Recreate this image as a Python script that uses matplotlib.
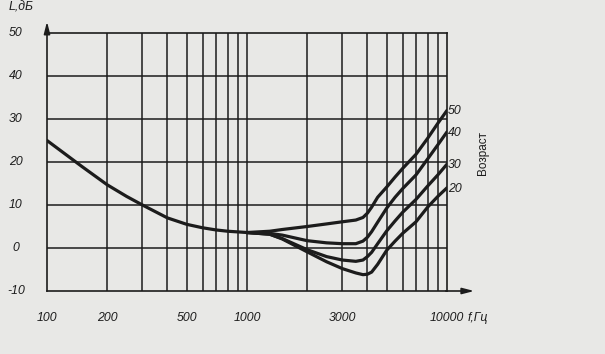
import matplotlib
matplotlib.use("Agg")
import matplotlib.pyplot as plt
from matplotlib import transforms

# ---- data ----
common_f = [100, 150, 200, 250, 300, 400, 500, 600, 700, 800, 1000]
common_L = [25, 18.9, 14.7, 12.0, 10.0, 7.0, 5.5, 4.7, 4.2, 3.9, 3.6]

f50 = [1000, 1300, 1500, 2000, 2500, 3000, 3500, 3800, 4000, 4200, 4500, 5000, 5500, 6000, 7000, 8000, 9000, 10000]
L50 = [3.6, 3.9, 4.3, 5.0, 5.6, 6.1, 6.5, 7.1, 8.1, 9.5, 11.8, 14.2, 16.5, 18.5, 21.8, 25.5, 29.0, 32.0]

f40 = [1000, 1300, 1500, 2000, 2500, 3000, 3500, 3800, 4000, 4200, 4500, 5000, 5500, 6000, 7000, 8000, 9000, 10000]
L40 = [3.6, 3.4, 3.0, 1.7, 1.2, 1.0, 1.0, 1.6, 2.5, 3.8, 6.0, 9.3, 11.8, 13.8, 17.0, 20.7, 24.0, 27.0]

f30 = [1000, 1300, 1500, 2000, 2500, 3000, 3500, 3800, 4000, 4200, 4500, 5000, 5500, 6000, 7000, 8000, 9000, 10000]
L30 = [3.6, 3.2, 2.2, -0.4, -2.0, -2.8, -3.1, -2.8, -2.0, -1.0, 1.0, 4.0, 6.3, 8.3, 11.3, 14.4, 17.0, 19.5]

f20 = [1000, 1300, 1500, 2000, 2500, 3000, 3500, 3800, 4000, 4200, 4500, 5000, 5500, 6000, 7000, 8000, 9000, 10000]
L20 = [3.6, 3.2, 2.1, -0.9, -3.2, -4.8, -5.8, -6.2, -6.1, -5.6, -3.8, -0.5, 1.6, 3.4, 6.1, 9.5, 12.0, 14.0]

ages = ["50", "40", "30", "20"]

y_ticks = [-10, 0, 10, 20, 30, 40, 50]
x_ticks = [100, 200, 500, 1000, 3000, 10000]
x_tick_labels = ["100", "200", "500", "1000", "3000", "10000"]
x_grid = [200, 300, 400, 500, 600, 700, 800, 900, 1000,
          2000, 3000, 4000, 5000, 6000, 7000, 8000, 9000]
y_grid = [0, 10, 20, 30, 40]

bg = "#e8e8e6"
ink = "#1c1c1c"
font = dict(family=["Liberation Sans", "DejaVu Sans"], style="italic", fontsize=8.8, color=ink)

fig = plt.figure(figsize=(6.05, 3.54), dpi=100, facecolor=bg)
ax = fig.add_axes([47 / 605, 63 / 354, 400 / 605, 258 / 354])
ax.set_facecolor(bg)
ax.set_xscale("log")
ax.set_xlim(100, 10000)
ax.set_ylim(-10, 50)

for s in ax.spines.values():
    s.set_color(ink)
    s.set_linewidth(1.2)
ax.tick_params(which="both", length=0, labelbottom=False, labelleft=False)
ax.set_xticks([])
ax.set_xticks([], minor=True)
ax.set_yticks([])

for g in x_grid:
    ax.axvline(g, color=ink, lw=1.1, zorder=1)
for g in y_grid:
    ax.axhline(g, color=ink, lw=1.1, zorder=1)

# axis arrows
arrow = dict(arrowstyle="-|>,head_length=0.7,head_width=0.18", color=ink, lw=1.2)
ax.annotate("", xy=(1.075, 0), xytext=(0.99, 0), xycoords="axes fraction",
            arrowprops=arrow, annotation_clip=False)
ax.annotate("", xy=(0, 1.055), xytext=(0, 0.99), xycoords="axes fraction",
            arrowprops=arrow, annotation_clip=False)

# curves
style = dict(color=ink, lw=2.3, solid_capstyle="round", solid_joinstyle="round", zorder=3)
ax.plot(common_f, common_L, **style)
for f, L in [(f50, L50), (f40, L40), (f30, L30), (f20, L20)]:
    ax.plot(f, L, **style)

# end labels
for lab, L in zip(ages, [L50, L40, L30, L20]):
    ax.text(10000 * 1.012, L[-1] - 0.2, lab, ha="left", va="center", **font)
ax.text(1.09, 22, "Возраст",
        transform=transforms.blended_transform_factory(ax.transAxes, ax.transData),
        rotation=90, ha="center", va="center",
        family=["Liberation Sans", "DejaVu Sans"], fontsize=8.5, color=ink)

# tick labels
ylab_tr = transforms.blended_transform_factory(fig.transFigure, ax.transData)
for v in y_ticks:
    ax.text(16 / 605, v, str(v), transform=ylab_tr, ha="center", va="center", **font)
xlab_tr = transforms.blended_transform_factory(ax.transData, fig.transFigure)
for v, t in zip(x_ticks, x_tick_labels):
    ax.text(v, 1 - 318 / 354, t, transform=xlab_tr, ha="center", va="center", **font)
fig.text(468 / 605, 1 - 318 / 354, "f,Гц", ha="left", va="center", **font)
fig.text(9 / 605, 1 - 8 / 354, "L,дБ", ha="left", va="center", **font)

fig.savefig("out.png", dpi=100, facecolor=bg)
